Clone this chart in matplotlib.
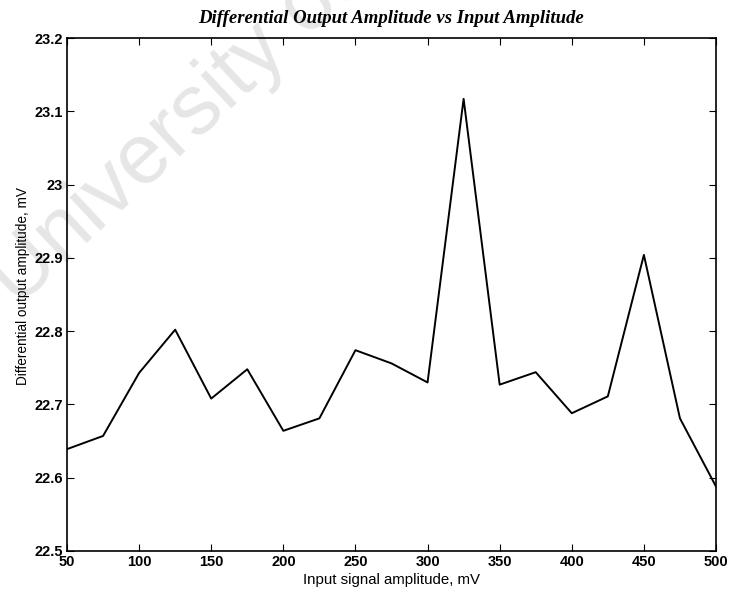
import matplotlib
matplotlib.use("Agg")
import matplotlib.pyplot as plt

# Input signal amplitude (mV) and measured differential output amplitude (mV)
input_mv = [50, 75, 100, 125, 150, 175, 200, 225, 250, 275, 300,
            325, 350, 375, 400, 425, 450, 475, 500]
output_mv = [22.639, 22.657, 22.743, 22.802, 22.708, 22.748, 22.664, 22.681,
             22.774, 22.756, 22.730, 23.117, 22.727, 22.744, 22.688, 22.711,
             22.904, 22.681, 22.588]

x_ticks = [50, 100, 150, 200, 250, 300, 350, 400, 450, 500]
y_ticks = [22.5, 22.6, 22.7, 22.8, 22.9, 23.0, 23.1, 23.2]
y_tick_labels = ["22.5", "22.6", "22.7", "22.8", "22.9", "23", "23.1", "23.2"]

W, H = 732, 596
fig = plt.figure(figsize=(W / 100, H / 100), dpi=100)
ax = fig.add_axes([67 / W, 1 - 551 / H, (716 - 67) / W, (551 - 38) / H])

# faint diagonal watermark, kept underneath everything else
fig.text(18 / W, 1 - 308 / H, "University of Cape Town", fontsize=61,
         color="#e6e6e6", rotation=43, rotation_mode="anchor",
         ha="left", va="baseline", family="Liberation Sans", zorder=-5)
ax.set_facecolor("none")

ax.plot(input_mv, output_mv, color="black", lw=1.4, zorder=3)

ax.set_xlim(50, 500)
ax.set_ylim(22.5, 23.2)
ax.set_xticks(x_ticks)
ax.set_yticks(y_ticks)
ax.set_yticklabels(y_tick_labels)

ax.tick_params(direction="in", length=5, width=0.8, top=True, right=True,
               labelsize=10.5, pad=3)
for lbl in ax.get_xticklabels() + ax.get_yticklabels():
    lbl.set_family("Liberation Sans")
    lbl.set_fontweight("bold")
for s in ax.spines.values():
    s.set_linewidth(1.2)

ax.set_xlabel("Input signal amplitude, mV", fontsize=10.8,
              family="Liberation Sans", labelpad=3)
ax.set_ylabel("Differential output amplitude, mV", fontsize=9.8,
              family="Liberation Sans")
ax.yaxis.set_label_coords(-37 / (716 - 67), (551 - 286) / (551 - 38))
ax.set_title("Differential Output Amplitude vs Input Amplitude",
             fontsize=13.5, family="Liberation Serif", style="italic",
             fontweight="bold", pad=11)

fig.savefig("out.png", dpi=100)
